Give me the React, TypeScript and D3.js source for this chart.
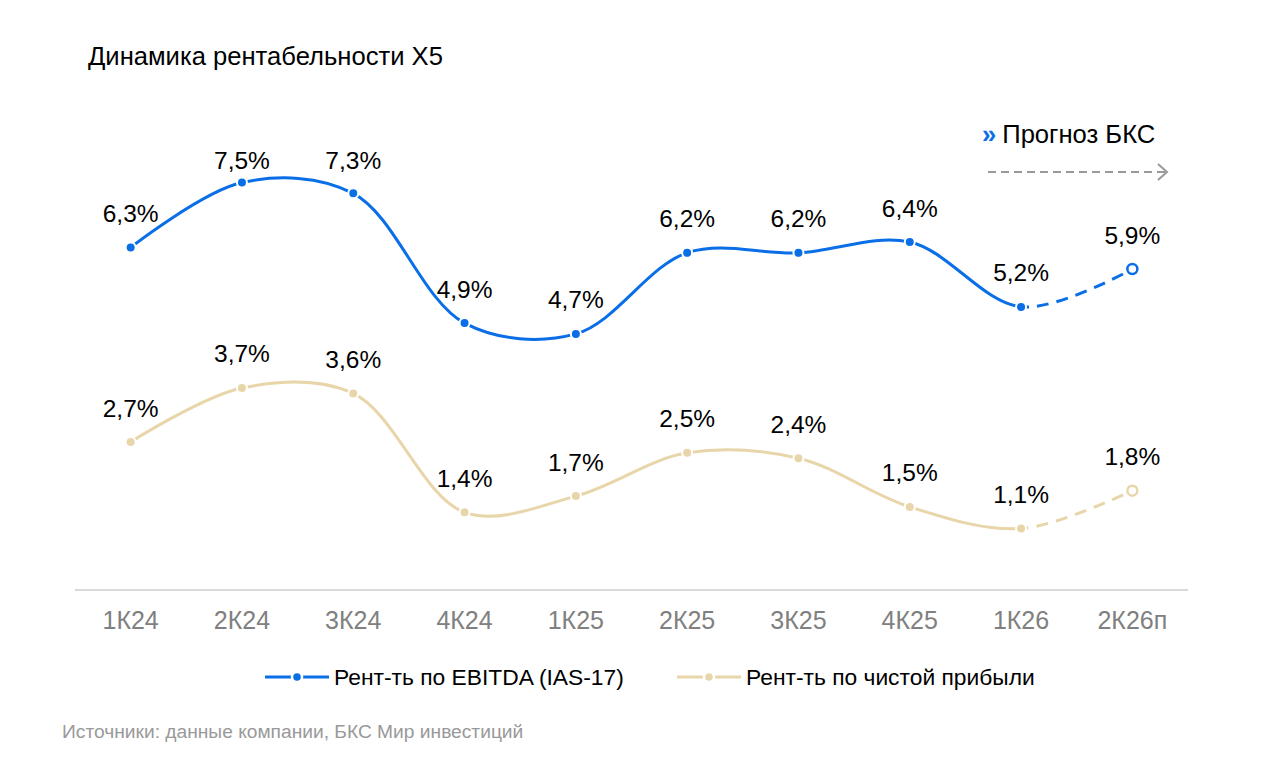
import React from "react";
import * as d3 from "d3";

const categories = ["1К24", "2К24", "3К24", "4К24", "1К25", "2К25", "3К25", "4К25", "1К26", "2К26п"];
const ebitda = [6.3, 7.5, 7.3, 4.9, 4.7, 6.2, 6.2, 6.4, 5.2, 5.9];
const netProfit = [2.7, 3.7, 3.6, 1.4, 1.7, 2.5, 2.4, 1.5, 1.1, 1.8];
const seriesNames = ["Рент-ть по EBITDA (IAS-17)", "Рент-ть по чистой прибыли"];
const forecastFrom = "1К26";

const width = 1278;
const height = 770;
const axisLeft = 75;
const axisRight = 1188;
const baseline = 590;
const font = "'Liberation Sans', Arial, sans-serif";
const blue = "#0a6ee6";
const beige = "#e8d5a9";

const x = d3.scalePoint<string>().domain(categories).range([axisLeft, axisRight]).padding(0.5);
const y = d3.scaleLinear().domain([0, 8]).range([588, 155.5]);

const line = d3
  .line<number>()
  .x((_, i) => x(categories[i]) as number)
  .y((d) => y(d))
  .curve(d3.curveCatmullRom.alpha(0.5));

const fmt = (v: number) => v.toFixed(1).replace(".", ",") + "%";

const Series = ({ values, color, id }: { values: number[]; color: string; id: string }) => {
  const d = line(values) as string;
  const last = values.length - 1;
  return (
    <g>
      <path d={d} fill="none" stroke={color} strokeWidth={3} clipPath={`url(#solid-${id})`} />
      <path d={d} fill="none" stroke={color} strokeWidth={3} strokeDasharray="12 8" clipPath={`url(#dash-${id})`} />
      {values.map((v, i) => {
        const cx = x(categories[i]) as number;
        const cy = y(v);
        return (
          <g key={i}>
            {i === last ? (
              <circle cx={cx} cy={cy} r={5} fill="#fff" stroke={color} strokeWidth={2.5} />
            ) : (
              <circle cx={cx} cy={cy} r={5} fill={color} stroke="#fff" strokeWidth={2} />
            )}
            <text
              x={cx}
              y={Math.max(cy - 34, 160) + 8.5}
              textAnchor="middle"
              fontSize={24.5}
              fill="#000"
            >
              {fmt(v)}
            </text>
          </g>
        );
      })}
    </g>
  );
};

const LegendItem = ({ x0, color, label }: { x0: number; color: string; label: string }) => (
  <g>
    <line x1={x0} x2={x0 + 64} y1={677} y2={677} stroke={color} strokeWidth={3} />
    <circle cx={x0 + 32} cy={677} r={5} fill={color} stroke="#fff" strokeWidth={2.5} />
    <text x={x0 + 69} y={685} fontSize={22.8} fill="#000">
      {label}
    </text>
  </g>
);

export default function App() {
  const fx = x(forecastFrom) as number;
  return (
    <svg
      width={width}
      height={height}
      style={{ position: "absolute", left: 0, top: 0, background: "#fff" }}
      fontFamily={font}
    >
      <defs>
        {["a", "b"].map((id) => (
          <React.Fragment key={id}>
            <clipPath id={`solid-${id}`}>
              <rect x={0} y={0} width={fx} height={height} />
            </clipPath>
            <clipPath id={`dash-${id}`}>
              <rect x={fx} y={0} width={width - fx} height={height} />
            </clipPath>
          </React.Fragment>
        ))}
      </defs>

      <text x={88} y={65} fontSize={25.6} fill="#000">
        Динамика рентабельности X5
      </text>

      <text x={982} y={143} fontSize={25.6} fill="#000">
        <tspan fill={blue} fontWeight="bold">»</tspan>
        <tspan dx={6}>Прогноз БКС</tspan>
      </text>
      <line x1={988} x2={1166} y1={172} y2={172} stroke="#999" strokeWidth={2} strokeDasharray="8 5" />
      <path d="M1158,164 L1167,172 L1158,180" fill="none" stroke="#999" strokeWidth={2} />

      <line x1={axisLeft} x2={axisRight} y1={baseline} y2={baseline} stroke="#d9d9d9" strokeWidth={2} />
      {categories.map((c) => (
        <text key={c} x={x(c) as number} y={629} textAnchor="middle" fontSize={25} fill="#808080">
          {c}
        </text>
      ))}

      <Series values={netProfit} color={beige} id="b" />
      <Series values={ebitda} color={blue} id="a" />

      <LegendItem x0={265} color={blue} label={seriesNames[0]} />
      <LegendItem x0={677} color={beige} label={seriesNames[1]} />

      <text x={62} y={738} fontSize={19.2} fill="#999">
        Источники: данные компании, БКС Мир инвестиций
      </text>
    </svg>
  );
}
